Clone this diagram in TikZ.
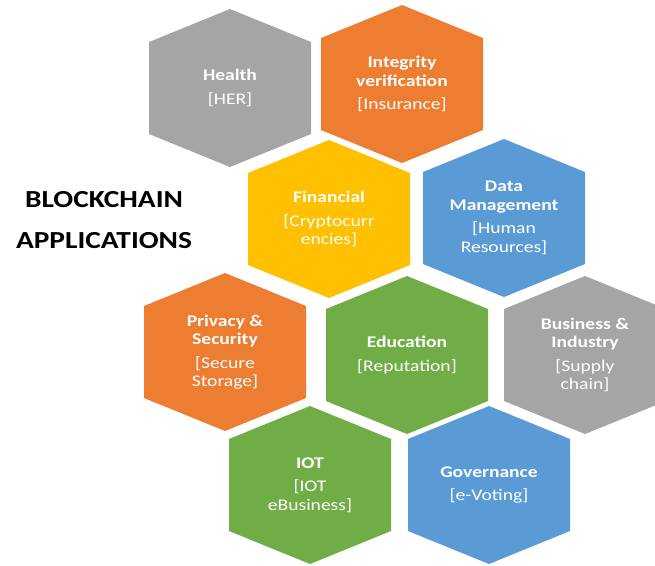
\documentclass[tikz,border=0pt]{standalone}
\usepackage{fontspec}
\setmainfont{Carlito}[FakeStretch=1.2]
\usepackage{xcolor}
\usetikzlibrary{positioning}

\definecolor{hexgray}{HTML}{A5A5A5}
\definecolor{hexorange}{HTML}{ED7D31}
\definecolor{hexyellow}{HTML}{FFC000}
\definecolor{hexblue}{HTML}{5B9BD5}
\definecolor{hexgreen}{HTML}{70AD47}

\begin{document}
\begin{tikzpicture}[x=1pt,y=-1pt,
    cell/.style={text=white, align=center, font=\fontsize{16.3}{18.5}\selectfont\bfseries},
    heading/.style={align=center, font=\fontsize{24.5}{41}\selectfont\bfseries}]
    \useasboundingbox (0,0) rectangle (655,565);
    \clip (0,0) rectangle (655,565);

    % honeycomb cells: name / centre / colour / title / subtitle
    \foreach \nm/\cx/\cy/\col/\ttl/\sub in {
        health/230/88/hexgray/{Health}/{\mdseries[HER]},
        integrity/402/84/hexorange/{Integrity\\verification}/{\mdseries[Insurance]},
        financial/329/219/hexyellow/{Financial}/{\mdseries[Cryptocurr\\\mdseries encies]},
        datamgmt/504/218/hexblue/{Data\\Management}/{\mdseries[Human\\\mdseries Resources]},
        privacy/225/352/hexorange/{Privacy \&\\Security}/{\mdseries[Secure\\\mdseries Storage]},
        education/407/355/hexgreen/{Education}/{\mdseries[Reputation]},
        business/585/355/hexgray/{Business \&\\Industry}/{\mdseries[Supply\\\mdseries chain]},
        iot/310/485/hexgreen/{IOT}/{\mdseries[IOT\\\mdseries eBusiness]},
        governance/489/485/hexblue/{Governance}/{\mdseries[e-Voting]}}{
        \fill[\col] (\cx,\cy) ++(0,-79) -- ++(81,33) -- ++(0,92) -- ++(-81,33)
            -- ++(-81,-33) -- ++(0,-92) -- cycle;
        \node[cell] (\nm) at (\cx,\cy) {\ttl\\[5pt]\sub};
    }

    \node[heading] (title) at (104,220) {BLOCKCHAIN\\APPLICATIONS};
\end{tikzpicture}
\end{document}
